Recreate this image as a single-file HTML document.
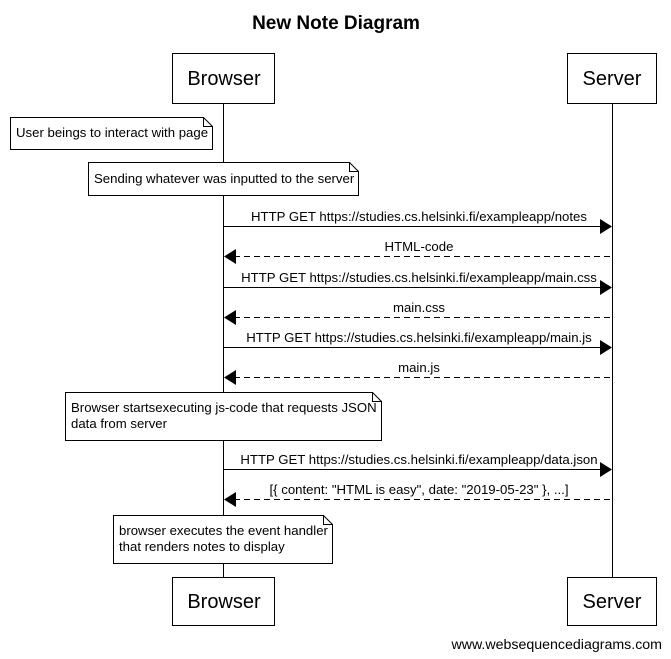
<!DOCTYPE html>
<html><head><meta charset="utf-8"><style>html,body{margin:0;padding:0;background:#fff}svg{display:block}</style></head>
<body>
<svg width="671" height="659" xmlns="http://www.w3.org/2000/svg" font-family="Liberation Sans, Arial, sans-serif">
<rect width="671" height="659" fill="#fff"/>
<text x="336" y="29" font-size="19" font-weight="bold" text-anchor="middle">New Note Diagram</text>
<g stroke="#000" fill="none" stroke-width="1">
<line x1="223.5" y1="103" x2="223.5" y2="577"/>
<line x1="612.5" y1="103" x2="612.5" y2="577"/>
<rect x="172.5" y="53.5" width="102" height="50" fill="#fff"/>
<rect x="567.5" y="53.5" width="89" height="50" fill="#fff"/>
<rect x="172.5" y="577.5" width="102" height="48" fill="#fff"/>
<rect x="567.5" y="577.5" width="89" height="48" fill="#fff"/>
<path d="M10.5 117.5H203.5L212.5 126.5V149.5H10.5Z" fill="#fff"/><path d="M203.5 117.5V126.5H212.5"/>
<path d="M88.5 162.5H349.5L358.5 171.5V195.5H88.5Z" fill="#fff"/><path d="M349.5 162.5V171.5H358.5"/>
<path d="M65.5 392.5H372.5L381.5 401.5V440.5H65.5Z" fill="#fff"/><path d="M372.5 392.5V401.5H381.5"/>
<path d="M113.5 515.5H323.5L332.5 524.5V563.5H113.5Z" fill="#fff"/><path d="M323.5 515.5V524.5H332.5"/>
<line x1="224" y1="226.5" x2="602" y2="226.5"/>
<line x1="234" y1="256.5" x2="612" y2="256.5" stroke-dasharray="6,4"/>
<line x1="224" y1="287.5" x2="602" y2="287.5"/>
<line x1="234" y1="317.5" x2="612" y2="317.5" stroke-dasharray="6,4"/>
<line x1="224" y1="347.5" x2="602" y2="347.5"/>
<line x1="234" y1="377.5" x2="612" y2="377.5" stroke-dasharray="6,4"/>
<line x1="224" y1="469.5" x2="602" y2="469.5"/>
<line x1="234" y1="499.5" x2="612" y2="499.5" stroke-dasharray="6,4"/>
</g>
<g fill="#000">
<path d="M600 219L612 226.5L600 234Z"/>
<path d="M236 249L224 256.5L236 264Z"/>
<path d="M600 280L612 287.5L600 295Z"/>
<path d="M236 310L224 317.5L236 325Z"/>
<path d="M600 340L612 347.5L600 355Z"/>
<path d="M236 370L224 377.5L236 385Z"/>
<path d="M600 462L612 469.5L600 477Z"/>
<path d="M236 492L224 499.5L236 507Z"/>
</g>
<g font-size="20" text-anchor="middle">
<text x="224" y="85">Browser</text>
<text x="612" y="85">Server</text>
<text x="224" y="608">Browser</text>
<text x="612" y="608">Server</text>
</g>
<g font-size="13.2">
<text x="16" y="137">User beings to interact with page</text>
<text x="94" y="183">Sending whatever was inputted to the server</text>
<text x="71" y="412">Browser startsexecuting js-code that requests JSON</text>
<text x="71" y="428">data from server</text>
<text x="119" y="535">browser executes the event handler</text>
<text x="119" y="551">that renders notes to display</text>
</g>
<g font-size="13.2" text-anchor="middle">
<text x="419" y="221">HTTP GET https://studies.cs.helsinki.fi/exampleapp/notes</text>
<text x="419" y="251">HTML-code</text>
<text x="419" y="282">HTTP GET https://studies.cs.helsinki.fi/exampleapp/main.css</text>
<text x="419" y="312">main.css</text>
<text x="419" y="342">HTTP GET https://studies.cs.helsinki.fi/exampleapp/main.js</text>
<text x="419" y="372">main.js</text>
<text x="419" y="464">HTTP GET https://studies.cs.helsinki.fi/exampleapp/data.json</text>
<text x="419" y="494">[{ content: "HTML is easy", date: "2019-05-23" }, ...]</text>
</g>
<text x="662" y="649" font-size="14.2" text-anchor="end">www.websequencediagrams.com</text>
</svg>
</body></html>
